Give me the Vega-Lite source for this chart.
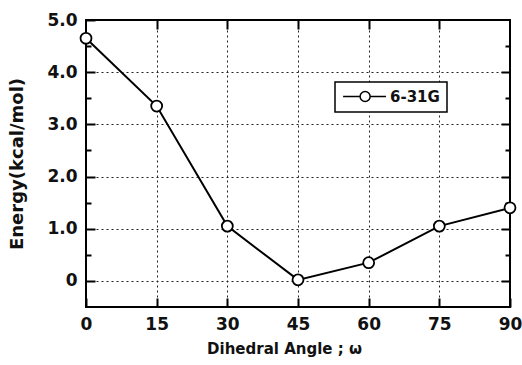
{
  "$schema": "https://vega.github.io/schema/vega-lite/v6.json",
  "width": 424,
  "height": 287,
  "autosize": {"type": "none"},
  "padding": {"left": 86, "top": 20, "right": 12, "bottom": 58},
  "background": "white",
  "config": {
    "view": {"stroke": "black", "strokeWidth": 2},
    "font": "DejaVu Sans",
    "axis": {
      "labelFont": "DejaVu Sans",
      "labelFontWeight": "bold",
      "labelFontSize": 17,
      "labelColor": "#111",
      "titleFont": "DejaVu Sans",
      "titleFontWeight": "bold",
      "titleFontSize": 15,
      "titleColor": "#111",
      "gridColor": "#222",
      "gridDash": [2, 3],
      "gridWidth": 1
    }
  },
  "data": {
    "values": [
      {"angle": 0, "energy": 4.65, "series": "6-31G"},
      {"angle": 15, "energy": 3.35, "series": "6-31G"},
      {"angle": 30, "energy": 1.05, "series": "6-31G"},
      {"angle": 45, "energy": 0.02, "series": "6-31G"},
      {"angle": 60, "energy": 0.35, "series": "6-31G"},
      {"angle": 75, "energy": 1.05, "series": "6-31G"},
      {"angle": 90, "energy": 1.4, "series": "6-31G"}
    ]
  },
  "resolve": {"axis": {"x": "independent", "y": "independent"}},
  "layer": [
    {
      "mark": {"type": "line", "strokeWidth": 2},
      "encoding": {
        "x": {
          "field": "angle", "type": "quantitative",
          "scale": {"domain": [0, 90], "nice": false, "zero": false},
          "axis": {
            "orient": "bottom",
            "values": [0, 15, 30, 45, 60, 75, 90],
            "title": "Dihedral Angle ; ω",
            "titlePadding": 9,
            "titleX": 198,
            "titleAlign": "center",
            "domain": false,
            "tickColor": "black",
            "tickWidth": 2,
            "tickSize": -9,
            "labelPadding": 18,
            "labelFlush": false,
            "grid": true,
            "gridOpacity": {"condition": {"test": "datum.value == 0 || datum.value == 90", "value": 0}, "value": 1}
          }
        },
        "y": {
          "field": "energy", "type": "quantitative",
          "scale": {"domain": [-0.5, 5], "nice": false, "zero": false},
          "axis": {
            "orient": "left",
            "values": [0, 0.5, 1, 1.5, 2, 2.5, 3, 3.5, 4, 4.5, 5],
            "labelExpr": "datum.value % 1 == 0 ? (datum.value == 0 ? '0' : format(datum.value, '.1f')) : ''",
            "title": "Energy(kcal/mol)",
            "titlePadding": 20,
            "titleFontSize": 18,
            "domain": false,
            "tickColor": "black",
            "tickWidth": 2,
            "tickSize": {"condition": {"test": "datum.value % 1 == 0", "value": -9}, "value": -5},
            "labelPadding": 18,
            "labelFlush": false,
            "grid": true,
            "gridOpacity": {"condition": {"test": "datum.value % 1 == 0 && datum.value < 5", "value": 1}, "value": 0}
          }
        },
        "stroke": {
          "field": "series", "type": "nominal",
          "scale": {"range": ["black"]},
          "legend": {
            "title": null,
            "orient": "none",
            "legendX": 249,
            "legendY": 62,
            "direction": "vertical",
            "fillColor": "white",
            "strokeColor": "black",
            "padding": 7,
            "symbolType": "M -1 0 H 1.66 M 3.22 0 A 0.78 0.78 0 1 1 1.66 0 A 0.78 0.78 0 1 1 3.22 0 M 3.22 0 H 5.7",
            "symbolSize": 164,
            "symbolFillColor": "white",
            "symbolStrokeColor": "black",
            "symbolStrokeWidth": 1.5,
            "labelFont": "DejaVu Sans",
            "labelFontWeight": "bold",
            "labelFontSize": 15,
            "labelColor": "#111",
            "labelOffset": 33,
            "encode": {"legend": {"update": {"strokeWidth": {"value": 1.5}}}}
          }
        }
      }
    },
    {
      "mark": {"type": "point", "shape": "circle", "filled": true, "fill": "white", "stroke": "black", "strokeWidth": 1.8, "size": 120, "opacity": 1},
      "encoding": {
        "x": {
          "field": "angle", "type": "quantitative",
          "axis": {
            "orient": "top",
            "values": [15, 30, 45, 60, 75],
            "labels": false,
            "title": null,
            "domain": false,
            "tickColor": "black",
            "tickWidth": 2,
            "tickSize": -9,
            "grid": false
          }
        },
        "y": {
          "field": "energy", "type": "quantitative",
          "axis": {
            "orient": "right",
            "values": [0, 0.5, 1, 1.5, 2, 2.5, 3, 3.5, 4, 4.5],
            "labels": false,
            "title": null,
            "domain": false,
            "tickColor": "black",
            "tickWidth": 2,
            "tickSize": {"condition": {"test": "datum.value % 1 == 0", "value": -9}, "value": -5},
            "grid": false
          }
        }
      }
    }
  ]
}
